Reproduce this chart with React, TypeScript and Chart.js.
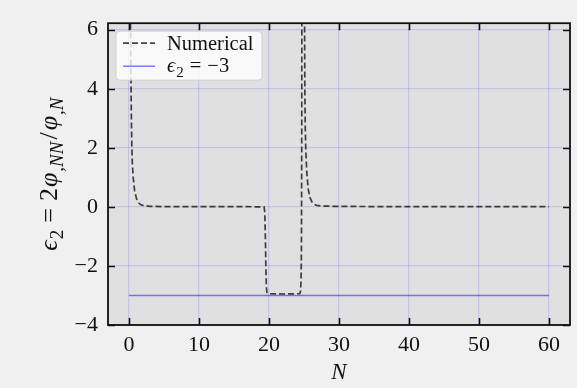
import { useEffect, useRef } from "react";
import { Chart, registerables } from "chart.js";

Chart.register(...registerables);

// ---- data ----
const numN = [0.12, 0.2, 0.26, 0.3, 0.34, 0.4, 0.47, 0.6, 0.8, 1.0, 1.15, 1.4, 1.7, 2.1, 3, 5, 10, 15, 19.3, 19.4, 19.48, 19.55, 19.62, 19.7, 19.85, 22, 24.4, 24.5, 24.58, 24.63, 24.66, 24.68, 24.7, 24.75, 25.02, 25.07, 25.12, 25.18, 25.26, 25.4, 25.6, 25.85, 26.1, 26.4, 26.8, 27.5, 29, 35, 45, 60];
const numE = [12, 6.5, 4.8, 4.0, 3.0, 2.1, 1.5, 1.0, 0.55, 0.35, 0.22, 0.13, 0.07, 0.04, 0.02, 0.01, 0.01, 0.01, 0.0, -0.2, -1.0, -2.0, -2.7, -2.9, -2.94, -2.95, -2.94, -2.85, -2.5, -1.5, 0.5, 3, 8, 14, 14, 7, 4.0, 2.7, 1.9, 1.15, 0.6, 0.32, 0.18, 0.09, 0.05, 0.03, 0.02, 0.01, 0.01, 0.01];
const refN = [0, 60];
const refE = [-3, -3];
const xTicks = [0, 10, 20, 30, 40, 50, 60];
const yTicks = [-4, -2, 0, 2, 4, 6];
const xMin = -3, xMax = 63;
const yMin = -4, yMax = 6.22;
const seriesLabels = ["Numerical", "ϵ2 = −3"];

const SERIF = "'Liberation Serif', 'DejaVu Serif', serif";
const GRID = "rgba(80,80,255,0.2)";
const DASH_COLOR = "rgba(20,20,20,0.8)";

type Run = { t: string; it?: boolean; sub?: boolean; gap?: number };

function drawRuns(ctx: CanvasRenderingContext2D, runs: Run[], x: number, y: number, size: number, center: boolean) {
  const fontFor = (r: Run) => `${r.it ? "italic " : ""}${r.sub ? Math.round(size * 0.72) : size}px ${SERIF}`;
  let total = 0;
  const widths = runs.map((r) => {
    ctx.font = fontFor(r);
    const w = ctx.measureText(r.t).width + (r.gap || 0);
    total += w;
    return w;
  });
  let cx = center ? x - total / 2 : x;
  ctx.textAlign = "left";
  ctx.textBaseline = "alphabetic";
  runs.forEach((r, i) => {
    ctx.font = fontFor(r);
    ctx.fillText(r.t, cx, y + (r.sub ? size * 0.22 : 0));
    cx += widths[i];
  });
}

const fmt = (v: number) => (v < 0 ? "\u2212" + Math.abs(v) : String(v));

const decor = {
  id: "decor",
  beforeDraw(chart: any) {
    const { ctx, chartArea: a, width, height } = chart;
    ctx.save();
    ctx.fillStyle = "#f0f0f0";
    ctx.fillRect(0, 0, width, height);
    ctx.fillStyle = "#e0e0e0";
    ctx.fillRect(a.left, a.top, a.right - a.left, a.bottom - a.top);
    ctx.restore();
  },
  afterDraw(chart: any) {
    const { ctx, chartArea: a, scales } = chart;
    ctx.save();
    // frame
    ctx.strokeStyle = "#111";
    ctx.lineWidth = 1.8;
    ctx.strokeRect(a.left, a.top, a.right - a.left, a.bottom - a.top);
    // inward ticks
    ctx.lineWidth = 1.6;
    const tl = 7;
    ctx.beginPath();
    xTicks.forEach((v) => {
      const px = Math.round(scales.x.getPixelForValue(v)) + 0.5;
      ctx.moveTo(px, a.bottom);
      ctx.lineTo(px, a.bottom - tl);
      ctx.moveTo(px, a.top);
      ctx.lineTo(px, a.top + tl);
    });
    yTicks.forEach((v) => {
      const py = Math.round(scales.y.getPixelForValue(v)) + 0.5;
      ctx.moveTo(a.left, py);
      ctx.lineTo(a.left + tl, py);
      ctx.moveTo(a.right, py);
      ctx.lineTo(a.right - tl, py);
    });
    ctx.stroke();

    // legend
    const lx = a.left + 8, ly = a.top + 8, lw = 146, lh = 49;
    ctx.beginPath();
    (ctx as any).roundRect(lx, ly, lw, lh, 4);
    ctx.fillStyle = "rgba(255,255,255,0.8)";
    ctx.fill();
    ctx.strokeStyle = "rgba(204,204,204,0.8)";
    ctx.lineWidth = 1;
    ctx.stroke();
    // line samples
    ctx.lineWidth = 1.7;
    ctx.strokeStyle = DASH_COLOR;
    ctx.setLineDash([6, 3]);
    ctx.beginPath();
    ctx.moveTo(lx + 7, ly + 12);
    ctx.lineTo(lx + 39, ly + 12);
    ctx.stroke();
    ctx.setLineDash([]);
    ctx.lineWidth = 1.5;
    ctx.strokeStyle = "rgba(0,0,255,0.5)";
    ctx.beginPath();
    ctx.moveTo(lx + 7, ly + 35);
    ctx.lineTo(lx + 39, ly + 35);
    ctx.stroke();
    ctx.fillStyle = "#111";
    drawRuns(ctx, [{ t: seriesLabels[0] }], lx + 51, ly + 19, 20.5, false);
    drawRuns(
      ctx,
      [{ t: "ϵ", it: true, gap: 1 }, { t: "2", sub: true, gap: 6 }, { t: "=", gap: 6 }, { t: "−3" }],
      lx + 51,
      ly + 41,
      20.5,
      false
    );

    // axis titles
    ctx.fillStyle = "#111";
    drawRuns(ctx, [{ t: "N", it: true }], (a.left + a.right) / 2, 379, 23, true);
    ctx.translate(57, (a.top + a.bottom) / 2);
    ctx.rotate(-Math.PI / 2);
    drawRuns(
      ctx,
      [
        { t: "ϵ", it: true, gap: 1 },
        { t: "2", sub: true, gap: 7 },
        { t: "=", gap: 7 },
        { t: "2", gap: 1 },
        { t: "φ", it: true, gap: 1 },
        { t: ",NN", it: true, sub: true, gap: 2 },
        { t: "/", gap: 2 },
        { t: "φ", it: true, gap: 1 },
        { t: ",N", it: true, sub: true },
      ],
      0,
      0,
      26,
      true
    );
    ctx.restore();
  },
};

export default function App() {
  const ref = useRef<HTMLCanvasElement>(null);
  useEffect(() => {
    document.body.style.margin = "0";
    document.body.style.background = "#f0f0f0";
    const canvas = ref.current!;
    const chart = new Chart(canvas, {
      type: "line",
      data: {
        datasets: [
          {
            label: seriesLabels[0],
            data: numN.map((x, i) => ({ x, y: numE[i] })),
            borderColor: DASH_COLOR,
            borderWidth: 1.7,
            borderDash: [6, 3],
            pointRadius: 0,
            tension: 0,
            fill: false,
            order: 1,
          },
          {
            label: seriesLabels[1],
            data: refN.map((x, i) => ({ x, y: refE[i] })),
            borderColor: "rgba(0,0,255,0.5)",
            borderWidth: 1.5,
            pointRadius: 0,
            tension: 0,
            fill: false,
            order: 0,
          },
        ],
      },
      options: {
        animation: false,
        responsive: false,
        maintainAspectRatio: false,
        layout: { padding: { top: 17, right: 7, left: 0, bottom: 0 } },
        plugins: { legend: { display: false }, tooltip: { enabled: false } },
        scales: {
          x: {
            type: "linear",
            min: xMin,
            max: xMax,
            afterBuildTicks: (s: any) => {
              s.ticks = xTicks.map((v) => ({ value: v }));
            },
            afterFit: (s: any) => {
              s.height = 63;
            },
            grid: { color: GRID, drawTicks: false, lineWidth: 1.2 },
            border: { display: false },
            ticks: {
              padding: 7,
              color: "#111",
              font: { family: SERIF, size: 22 },
              maxRotation: 0,
              autoSkip: false,
              callback: (v: any) => fmt(Number(v)),
            },
          },
          y: {
            type: "linear",
            min: yMin,
            max: yMax,
            afterBuildTicks: (s: any) => {
              s.ticks = yTicks.map((v) => ({ value: v }));
            },
            afterFit: (s: any) => {
              s.width = 108;
            },
            grid: { color: GRID, drawTicks: false, lineWidth: 1.2 },
            border: { display: false },
            ticks: {
              padding: 10,
              color: "#111",
              font: { family: SERIF, size: 22 },
              autoSkip: false,
              callback: (v: any) => fmt(Number(v)),
            },
          },
        },
      },
      plugins: [decor],
    });
    return () => chart.destroy();
  }, []);
  return <canvas ref={ref} width={577} height={388} style={{ display: "block" }} />;
}
